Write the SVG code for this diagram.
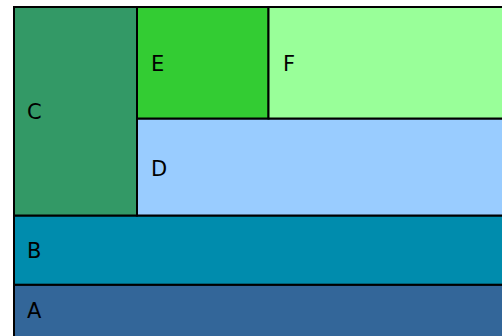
<svg xmlns="http://www.w3.org/2000/svg" width="502" height="336" viewBox="0 0 502 336">
<style>
rect{stroke:#000;stroke-width:2}
text{font-family:"DejaVu Sans",sans-serif;font-size:21px;fill:#000}
</style>
<rect x="0" y="0" width="502" height="336" fill="#fff" style="stroke:none"/>
<g id="A"><rect x="14" y="284.7" width="500" height="60" fill="#336699"/><text x="27" y="317.5">A</text></g>
<g id="B"><rect x="14" y="215.5" width="500" height="69.2" fill="#008cad"/><text x="27" y="257.5">B</text></g>
<g id="C"><rect x="14" y="7" width="123" height="208.5" fill="#339966"/><text x="27" y="118.5">C</text></g>
<g id="D"><rect x="137" y="118.5" width="377" height="97" fill="#99ccff"/><text x="151" y="175.5">D</text></g>
<g id="E"><rect x="137" y="7" width="131.5" height="111.5" fill="#33cc33"/><text x="151" y="70.5">E</text></g>
<g id="F"><rect x="268.5" y="7" width="245" height="111.5" fill="#99ff99"/><text x="283" y="70.5">F</text></g>
<g id="connectors"></g>
</svg>
